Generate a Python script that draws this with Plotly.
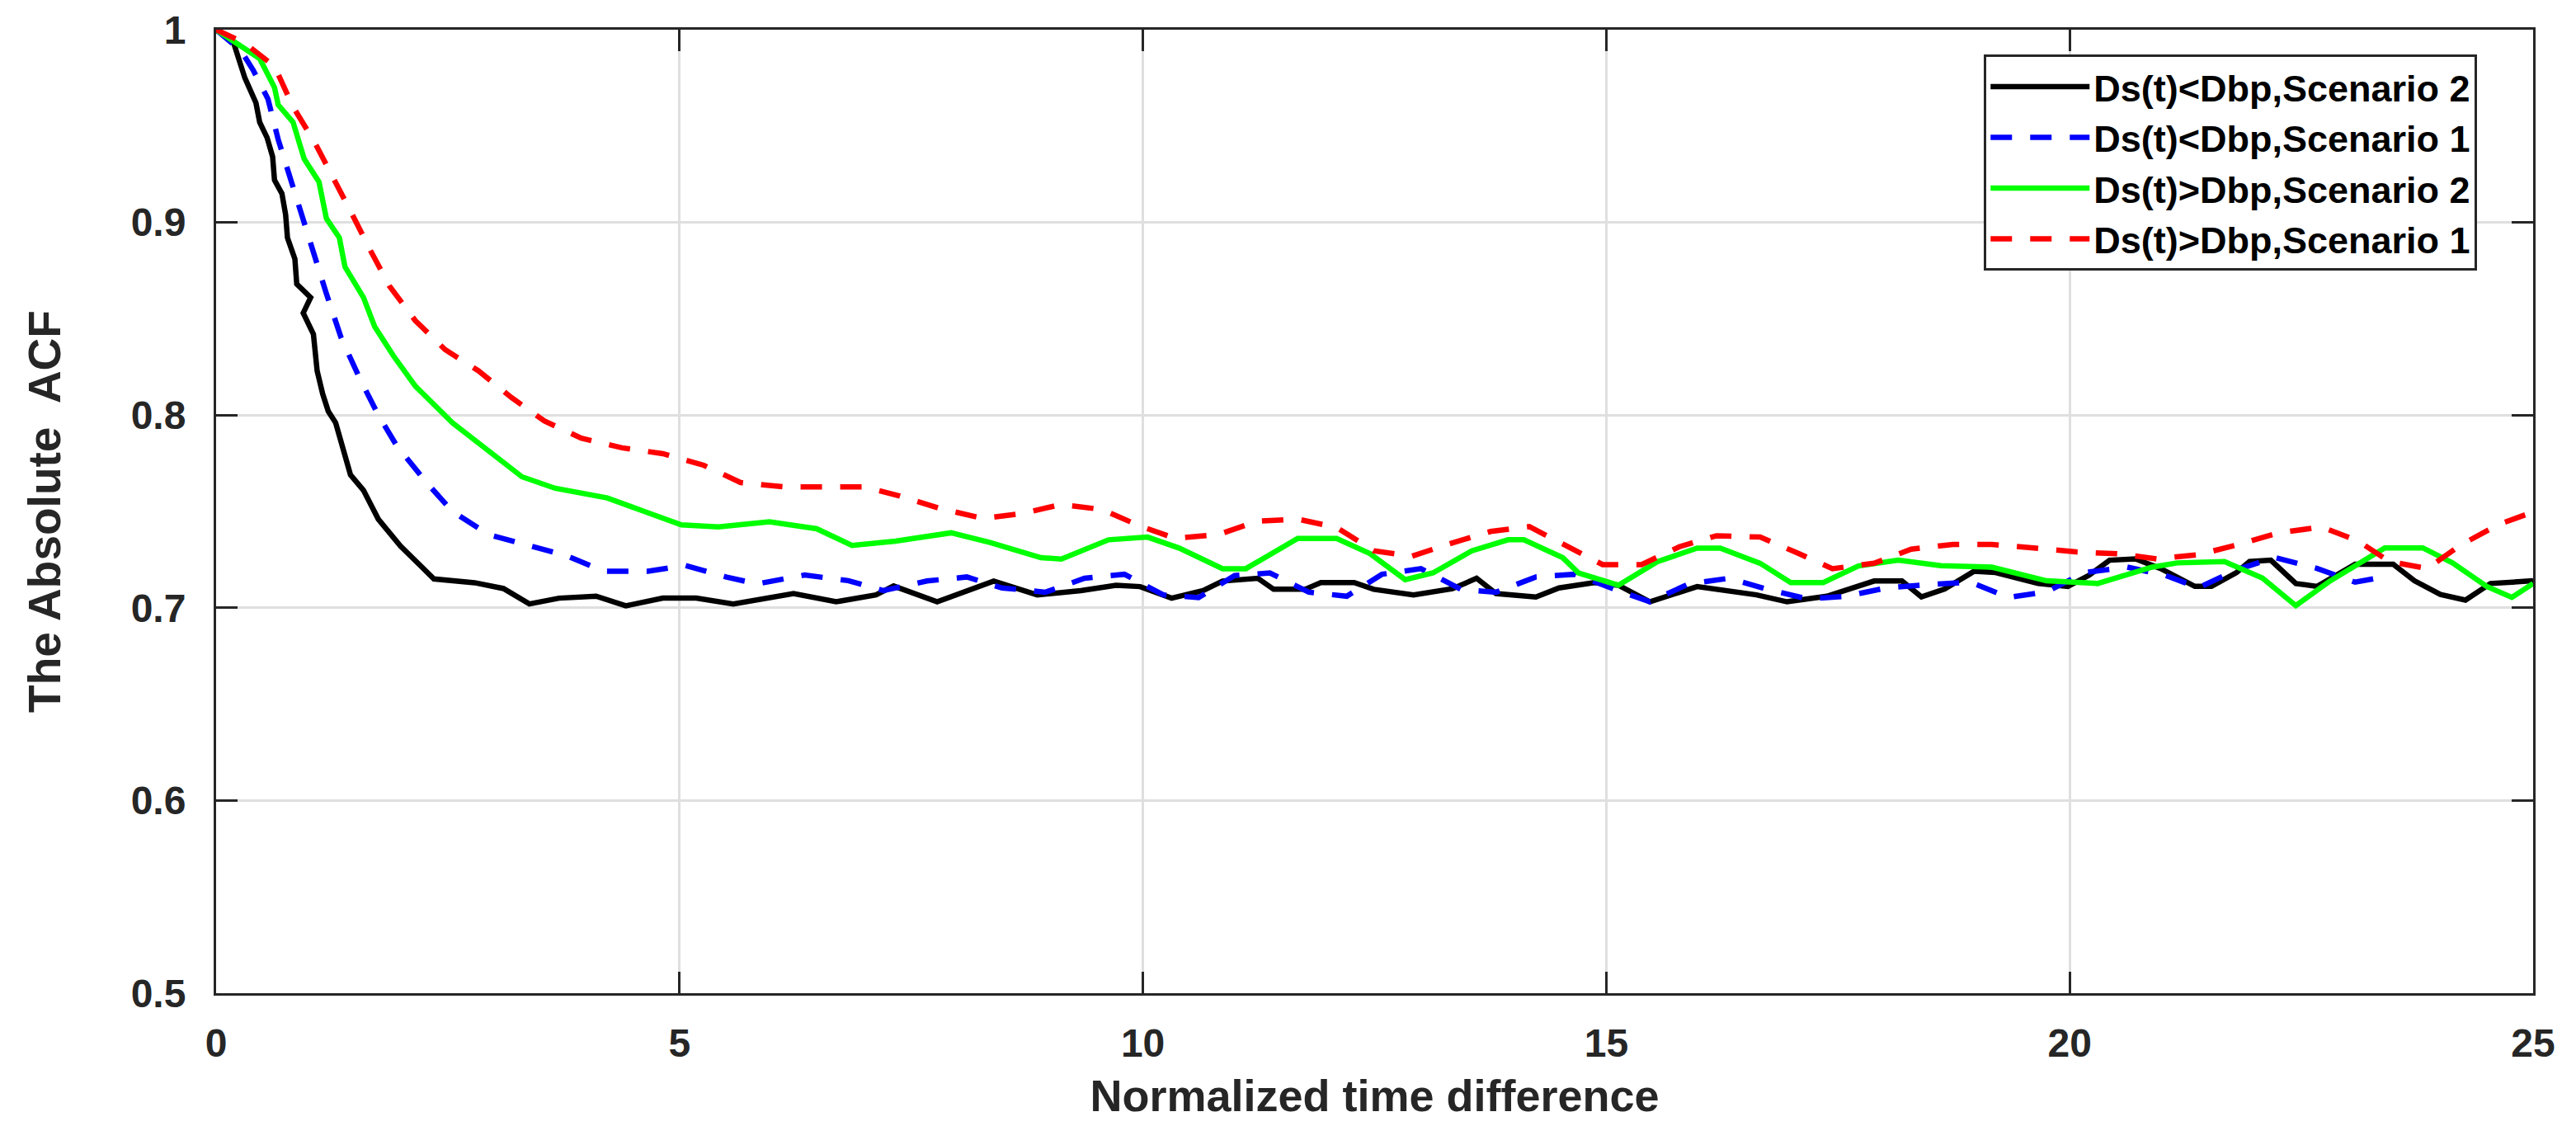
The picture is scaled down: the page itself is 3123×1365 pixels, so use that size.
import plotly.graph_objects as go

# ---- data ----
x_black = [0, 0.19, 0.31, 0.43, 0.47, 0.55, 0.61, 0.63, 0.71, 0.75, 0.77, 0.85, 0.87, 1.02, 0.94, 1.05, 1.09, 1.15, 1.21, 1.29,
           1.45, 1.59, 1.75, 1.99, 2.35, 2.79, 3.10, 3.38, 3.70, 4.10, 4.42, 4.82, 5.18, 5.58, 6.23, 6.69, 7.12, 7.31, 7.78, 8.39,
           8.86, 9.33, 9.71, 9.97, 10.31, 10.65, 10.86, 11.24, 11.41, 11.75, 11.92, 12.28, 12.49, 12.92, 13.34, 13.60, 13.81,
           14.24, 14.49, 14.87, 15.13, 15.47, 15.98, 16.62, 16.95, 17.38, 17.89, 18.19, 18.40, 18.65, 18.97, 19.20, 19.66,
           19.98, 20.21, 20.43, 20.71, 20.98, 21.35, 21.53, 21.80, 21.94, 22.17, 22.44, 22.67, 23.08, 23.49, 23.72, 24.0,
           24.27, 24.54, 25.0]
y_black = [1.0, 0.993, 0.975, 0.962, 0.952, 0.944, 0.934, 0.922, 0.915, 0.904, 0.892, 0.881, 0.868, 0.861, 0.853, 0.842, 0.823,
           0.811, 0.802, 0.796, 0.769, 0.761, 0.746, 0.732, 0.715, 0.713, 0.710, 0.702, 0.705, 0.706, 0.701, 0.705, 0.705, 0.702,
           0.7074, 0.7031, 0.7067, 0.7113, 0.7031, 0.7139, 0.7067, 0.7089, 0.7117, 0.711, 0.705, 0.7089, 0.7139, 0.7153, 0.7096,
           0.7096, 0.7131, 0.7131, 0.7096, 0.7067, 0.7099, 0.7153, 0.7074, 0.7056, 0.7103, 0.7131, 0.7117, 0.7031, 0.711, 0.7067,
           0.7031, 0.706, 0.7139, 0.7139, 0.7057, 0.7097, 0.719, 0.7183, 0.7126, 0.7111, 0.7169, 0.7247, 0.7254, 0.7204, 0.7111,
           0.7111, 0.7183, 0.724, 0.7247, 0.7126, 0.7111, 0.7226, 0.7226, 0.714, 0.7069, 0.704, 0.7126, 0.714]

x_blue = [0, 0.27, 0.40, 0.56, 0.67, 0.81, 0.93, 1.07, 1.19, 1.35, 1.55, 1.75, 1.95, 2.27, 2.55, 2.94, 3.38, 3.78, 4.18, 4.66,
          5.06, 5.50, 5.84, 6.35, 6.82, 7.20, 7.67, 8.10, 8.48, 8.95, 9.37, 9.80, 10.22, 10.60, 10.99, 11.37, 11.79, 12.20,
          12.58, 13.0, 13.43, 13.81, 14.24, 14.66, 15.13, 15.47, 15.89, 16.32, 16.74, 17.17, 17.59, 18.02, 18.47, 18.93,
          19.34, 19.75, 20.16, 20.62, 21.03, 21.39, 21.80, 22.21, 22.67, 23.08, 23.40]
y_blue = [1.0, 0.989, 0.979, 0.964, 0.943, 0.921, 0.903, 0.881, 0.863, 0.840, 0.819, 0.800, 0.784, 0.765, 0.750, 0.738, 0.732,
          0.727, 0.719, 0.719, 0.722, 0.716, 0.7124, 0.717, 0.7141, 0.7089, 0.7139, 0.716, 0.7103, 0.7081, 0.7153, 0.7174,
          0.7067, 0.7053, 0.7167, 0.7181, 0.7081, 0.706, 0.7174, 0.7203, 0.7096, 0.7081, 0.716, 0.7174, 0.7089, 0.7031, 0.7124,
          0.7153, 0.7096, 0.7046, 0.706, 0.7103, 0.712, 0.7133, 0.7054, 0.7083, 0.7183, 0.7211, 0.7169, 0.7104, 0.7197, 0.7261,
          0.7204, 0.7133, 0.7161]

x_green = [0, 0.27, 0.47, 0.63, 0.67, 0.83, 0.95, 1.11, 1.19, 1.33, 1.39, 1.59, 1.71, 1.91, 2.15, 2.55, 2.94, 3.30, 3.66, 4.22,
           4.62, 5.02, 5.42, 5.97, 6.48, 6.86, 7.33, 7.93, 8.35, 8.90, 9.12, 9.63, 10.05, 10.39, 10.86, 11.11, 11.67, 12.09,
           12.45, 12.83, 13.13, 13.55, 13.94, 14.11, 14.53, 14.70, 15.13, 15.55, 15.98, 16.23, 16.66, 16.99, 17.34, 17.72,
           18.15, 18.61, 19.16, 19.75, 20.30, 20.89, 21.16, 21.67, 22.08, 22.44, 22.81, 23.40, 23.81, 24.13, 24.50, 24.77, 25.0]
y_green = [1.0, 0.991, 0.985, 0.970, 0.961, 0.952, 0.933, 0.921, 0.902, 0.892, 0.877, 0.861, 0.846, 0.831, 0.815, 0.796, 0.781,
           0.768, 0.762, 0.757, 0.750, 0.743, 0.742, 0.7446, 0.741, 0.7324, 0.7346, 0.7389, 0.7339, 0.726, 0.7253, 0.7353, 0.7367,
           0.731, 0.7203, 0.7203, 0.736, 0.736, 0.7281, 0.7146, 0.7181, 0.7296, 0.7353, 0.7353, 0.726, 0.7181, 0.7117, 0.7239,
           0.731, 0.731, 0.7231, 0.7131, 0.7131, 0.7217, 0.7247, 0.7219, 0.7211, 0.714, 0.7126, 0.7211, 0.7233, 0.724, 0.7154,
           0.7011, 0.714, 0.7311, 0.7311, 0.7233, 0.7111, 0.7054, 0.7126]

x_red = [0, 0.31, 0.63, 0.83, 1.07, 1.27, 1.47, 1.67, 1.87, 2.15, 2.47, 2.83, 3.19, 3.54, 3.94, 4.38, 4.82, 5.26, 5.66, 6.14,
         7.0, 7.37, 7.80, 8.27, 8.69, 9.12, 9.56, 9.97, 10.35, 10.82, 11.24, 11.67, 12.09, 12.49, 12.90, 13.30, 13.75, 14.17,
         14.58, 14.96, 15.38, 15.79, 16.19, 16.66, 17.04, 17.44, 17.89, 18.29, 18.74, 19.16, 19.61, 20.07, 20.53, 20.94, 21.39,
         21.80, 22.26, 22.72, 23.11, 23.45, 23.86, 24.22, 24.63, 25.0]
y_red = [1.0, 0.993, 0.981, 0.960, 0.941, 0.923, 0.904, 0.885, 0.867, 0.849, 0.834, 0.823, 0.809, 0.797, 0.788, 0.783, 0.780,
         0.774, 0.765, 0.7627, 0.7627, 0.7581, 0.7517, 0.7464, 0.7489, 0.7536, 0.751, 0.7424, 0.736, 0.7381, 0.745, 0.746, 0.7417,
         0.7296, 0.7267, 0.7331, 0.7396, 0.7421, 0.7317, 0.7224, 0.7224, 0.7317, 0.7374, 0.7367, 0.7289, 0.7203, 0.7231, 0.7304,
         0.7329, 0.7329, 0.7311, 0.729, 0.728, 0.7254, 0.7276, 0.7326, 0.739, 0.7419, 0.7347, 0.724, 0.7204, 0.7326, 0.7433,
         0.7497]

series_names = ["Ds(t)<Dbp,Scenario 2", "Ds(t)<Dbp,Scenario 1", "Ds(t)>Dbp,Scenario 2", "Ds(t)>Dbp,Scenario 1"]
x_tickvals = [0, 5, 10, 15, 20, 25]
x_ticktext = ["0", "5", "10", "15", "20", "25"]
y_tickvals = [0.5, 0.6, 0.7, 0.8, 0.9, 1.0]
y_ticktext = ["0.5", "0.6", "0.7", "0.8", "0.9", "1"]
x_title = "Normalized time difference"
y_title = "The Absolute\u00a0 ACF"

# ---- figure ----
fig = go.Figure()
styles = [("#000000", "solid"), ("#0000ff", "26px,22px"), ("#00ff00", "solid"), ("#ff0000", "26px,22px")]
data = [(x_black, y_black), (x_blue, y_blue), (x_green, y_green), (x_red, y_red)]
for i, ((xs, ys), (col, dash), name) in enumerate(zip(data, styles, series_names)):
    fig.add_trace(go.Scatter(x=xs, y=ys, mode="lines", name=name, legendgroup=f"g{i}",
                             line=dict(color=col, width=6.5, dash=dash)))

font_family = "Liberation Sans, Arial"
axis_common = dict(
    showline=True, linecolor="#262626", linewidth=3, mirror="ticks",
    ticks="inside", ticklen=26, tickwidth=3, tickcolor="#262626",
    showgrid=True, gridcolor="#dfdfdf", gridwidth=2.5, zeroline=False,
    ticklabeloverflow="allow", automargin=False,
    tickfont=dict(family=font_family, size=48, color="#262626", weight="bold"),
)

fig.update_layout(
    width=3123, height=1365,
    margin=dict(l=254, r=60, t=28, b=169),
    paper_bgcolor="white", plot_bgcolor="white",
    xaxis=dict(range=[0, 25], tickvals=x_tickvals, ticktext=x_ticktext, ticklabelstandoff=16,
               title=dict(text=x_title, standoff=20,
                          font=dict(family=font_family, size=54, color="#262626", weight="bold")),
               **axis_common),
    yaxis=dict(range=[0.5, 1.0], tickvals=y_tickvals, ticktext=y_ticktext, ticklabelstandoff=24,
               title=dict(text=y_title, standoff=68,
                          font=dict(family=font_family, size=55, color="#262626", weight="bold")),
               **axis_common),
    legend=dict(x=0.763, y=0.974, xanchor="left", yanchor="top",
                bgcolor="white", bordercolor="#262626", borderwidth=3,
                font=dict(family=font_family, size=45, color="#000000", weight="bold"),
                itemwidth=120, tracegroupgap=0),
    showlegend=True,
)

fig.write_html("out.html")
